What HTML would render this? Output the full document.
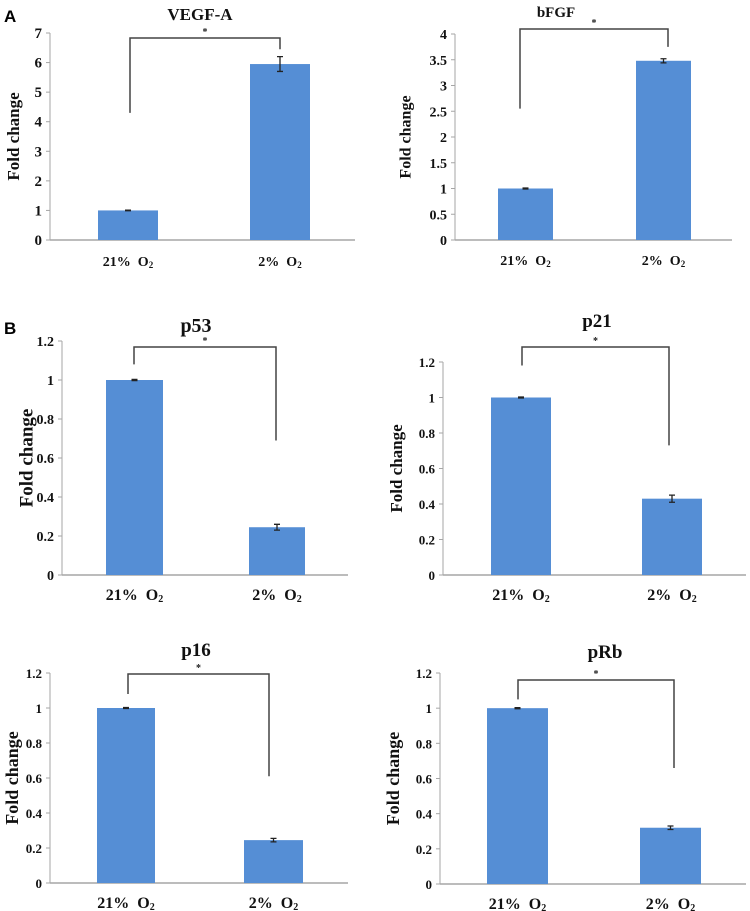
<!DOCTYPE html>
<html><head><meta charset="utf-8">
<style>
html,body{margin:0;padding:0;background:#fff;}
svg{display:block;}
svg text{font-family:"Liberation Serif","Times New Roman",serif;font-weight:bold;}
</style></head>
<body>
<svg id="fig" width="750" height="911" viewBox="0 0 750 911" xmlns="http://www.w3.org/2000/svg" font-family="Liberation Serif, serif" font-weight="bold">
<text x="4" y="22" style="font-family:'Liberation Sans',sans-serif" font-size="17">A</text>
<text x="4" y="334" style="font-family:'Liberation Sans',sans-serif" font-size="17">B</text>
</svg>
<script>
const categories = ["21%", "2%"];
const titles = ["VEGF-A", "bFGF", "p53", "p21", "p16", "pRb"];
const values = [[1, 5.95], [1, 3.48], [1, 0.245], [1, 0.43], [1, 0.245], [1, 0.32]];
const errors = [[0.01, 0.25], [0.01, 0.04], [0.003, 0.015], [0.003, 0.02], [0.003, 0.01], [0.003, 0.01]];
const yMaxes = [7, 4, 1.2, 1.2, 1.2, 1.2];
const yTickLabels = [
  ["0","1","2","3","4","5","6","7"],
  ["0","0.5","1","1.5","2","2.5","3","3.5","4"],
  ["0","0.2","0.4","0.6","0.8","1","1.2"],
  ["0","0.2","0.4","0.6","0.8","1","1.2"],
  ["0","0.2","0.4","0.6","0.8","1","1.2"],
  ["0","0.2","0.4","0.6","0.8","1","1.2"]
];
const bracketLeftVals = [4.3, 2.55, 1.08, 1.18, 1.08, 1.05];
const bracketRightVals = [6.45, 3.75, 0.69, 0.73, 0.61, 0.66];

// layout (pixels)
const layouts = [
  {x0:50,x1:355,y0:240,yTop:33,bars:[[98,158],[250,310]],brTop:38,brX:[130,280],title:[200,14],ylab:15,xlabY:266,tf:17,yf:17,tk:15,xf:14},
  {x0:455,x1:732,y0:240,yTop:34,bars:[[498,553],[636,691]],brTop:29,brX:[520,668],title:[556,11],ylab:407,xlabY:265,tf:15,yf:16,tk:14,xf:14},
  {x0:62,x1:348,y0:575,yTop:341,bars:[[106,163],[249,305]],brTop:347,brX:[134,276],title:[196,326],ylab:28,xlabY:600,tf:20,yf:19,tk:14,xf:16},
  {x0:443,x1:746,y0:575,yTop:362,bars:[[491,551],[642,702]],brTop:347,brX:[522,669],title:[597,321],ylab:398,xlabY:600,tf:19,yf:17,tk:13,xf:16},
  {x0:50,x1:348,y0:883,yTop:673,bars:[[97,155],[244,303]],brTop:674,brX:[128,269],title:[196,650],ylab:14,xlabY:908,tf:19,yf:18,tk:13,xf:16},
  {x0:440,x1:746,y0:884,yTop:673,bars:[[487,548],[640,701]],brTop:680,brX:[518,674],title:[605,652],ylab:395,xlabY:909,tf:19,yf:18,tk:13,xf:16}
];
const NS = "http://www.w3.org/2000/svg";
const svg = document.getElementById("fig");
function mk(tag, attrs, parent){const e=document.createElementNS(NS,tag);for(const k in attrs)e.setAttribute(k,attrs[k]);(parent||svg).appendChild(e);return e;}

titles.forEach((t, i) => {
  const L = layouts[i];
  const g = mk("g", {});
  
  
  const ys = v => L.y0 - (v / yMaxes[i]) * (L.y0 - L.yTop);
  const ya = mk("line", {x1:L.x0,x2:L.x0,y1:L.y0,y2:L.yTop,stroke:"#a6a6a6","stroke-width":1}, g);
  
  
  yTickLabels[i].forEach(lbl => {
    const y = ys(parseFloat(lbl));
    mk("line", {x1:L.x0-4,x2:L.x0,y1:y,y2:y,stroke:"#a6a6a6"}, g);
    const tx = mk("text", {x:L.x0-8,y:y+5,"text-anchor":"end","font-size":L.tk,fill:"#111"}, g);
    tx.textContent = lbl;
    
    
  });
  const xa = mk("line", {x1:L.x0,x2:L.x1,y1:L.y0,y2:L.y0,stroke:"#a6a6a6","stroke-width":1.5}, g);
  
  
  categories.forEach((c, j) => {
    const [bx0, bx1] = L.bars[j];
    const v = values[i][j], e = errors[i][j];
    const r = mk("rect", {x:bx0,y:ys(v),width:bx1-bx0,height:L.y0-ys(v),fill:"#558ed5"}, g);
    
    
    const cx = (bx0+bx1)/2;
    const eb = mk("path", {d:`M${cx-3},${ys(v+e)}H${cx+3}M${cx},${ys(v+e)}V${ys(v-e)}M${cx-3},${ys(v-e)}H${cx+3}`,stroke:"#222","stroke-width":1.3,fill:"none"}, g);
    
    
    const xl = mk("text", {x:cx,y:L.xlabY,"text-anchor":"middle","font-size":L.xf,fill:"#111"}, g);
    xl.innerHTML = c + '\u00a0\u00a0O<tspan font-size="' + Math.round(L.xf*0.65) + '" dy="2">2</tspan>';
    
    
  });
  const br = mk("path", {d:`M${L.brX[0]},${ys(bracketLeftVals[i])}V${L.brTop}H${L.brX[1]}V${ys(bracketRightVals[i])}`,stroke:"#444","stroke-width":1.5,fill:"none"}, g);
  
  
  const st = mk("text", {x:(L.brX[0]+L.brX[1])/2,y:L.brTop-3,"text-anchor":"middle","font-size":10,fill:"#222"}, g);
  st.textContent = "*";
  
  
  const tt = mk("text", {x:L.title[0],y:L.title[1]+6,"text-anchor":"middle","font-size":L.tf,fill:"#111"}, g);
  tt.textContent = t;
  
  
  const cy = (L.y0 + L.yTop)/2;
  const yl = mk("text", {x:L.ylab,y:cy,"text-anchor":"middle","font-size":L.yf,fill:"#111",transform:`rotate(-90 ${L.ylab} ${cy})`,"dominant-baseline":"middle"}, g);
  yl.textContent = "Fold change";
  
  
});
</script>
</body></html>
